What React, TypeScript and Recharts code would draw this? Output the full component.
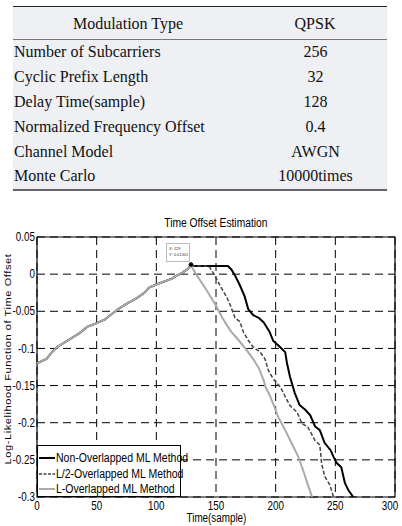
import {
  LineChart,
  Line,
  XAxis,
  YAxis,
  CartesianGrid,
  ReferenceArea,
  ReferenceDot,
} from 'recharts'

// simulation parameters shown above the plot
const paramNames = [
  'Number of Subcarriers',
  'Cyclic Prefix Length',
  'Delay Time(sample)',
  'Normalized Frequency Offset',
  'Channel Model',
  'Monte Carlo',
]
const paramValues = ['256', '32', '128', '0.4', 'AWGN', '10000times']

// shared rising edge up to the peak
const riseT = [0, 4, 8, 12, 17, 24, 31, 36, 42, 50, 57, 64, 70, 75, 84, 90, 94, 100, 108, 113, 117, 122, 127, 129]
const riseV = [-0.12, -0.117, -0.114, -0.106, -0.098, -0.091, -0.084, -0.079, -0.071, -0.066, -0.061, -0.052, -0.045, -0.04, -0.032, -0.025, -0.018, -0.014, -0.009, -0.006, -0.002, 0.002, 0.008, 0.013]

// falling edge for each method
const nonT = [131, 160, 163, 166, 170, 174, 177, 181, 186, 190, 195, 198, 203, 208, 209.5, 212, 216, 220, 225, 229, 233, 237, 241, 246, 248.5, 251, 255, 258, 261, 265]
const nonV = [0.011, 0.011, 0.006, -0.002, -0.015, -0.03, -0.047, -0.055, -0.059, -0.065, -0.078, -0.09, -0.097, -0.105, -0.12, -0.138, -0.16, -0.176, -0.183, -0.19, -0.205, -0.21, -0.227, -0.237, -0.246, -0.254, -0.26, -0.281, -0.291, -0.3]

const halfT = [131, 144, 148, 151, 155, 159, 162, 166, 170, 173, 177, 181, 187, 191, 194, 198, 204, 208, 212, 218, 222, 227, 233, 237, 238.5, 241, 245.5, 248.5]
const halfV = [0.011, 0.011, 0.001, -0.008, -0.02, -0.031, -0.042, -0.059, -0.064, -0.078, -0.089, -0.098, -0.105, -0.114, -0.13, -0.141, -0.152, -0.165, -0.177, -0.186, -0.201, -0.206, -0.224, -0.23, -0.255, -0.272, -0.284, -0.3]

const fullT = [130, 134, 139.5, 145, 150.5, 155, 162, 169, 176, 181, 186, 190, 191.5, 195, 199.5, 202, 208, 213.5, 219, 223, 227.5, 230.5]
const fullV = [0.009, -0.002, -0.015, -0.029, -0.044, -0.058, -0.076, -0.089, -0.103, -0.114, -0.127, -0.143, -0.152, -0.163, -0.181, -0.192, -0.21, -0.228, -0.246, -0.264, -0.286, -0.3]

const xTicks = [0, 50, 100, 150, 200, 250, 300]
const yTicks = [0.05, 0, -0.05, -0.1, -0.15, -0.2, -0.25, -0.3]

const peak = { t: 129, v: 0.01301 }

const build = (ts: number[], vs: number[]) => ts.map((t, i) => ({ t, v: vs[i] }))
const rise = build(riseT, riseV)
const nonData = [...rise, ...build(nonT, nonV)]
const halfData = [...rise, ...build(halfT, halfV)]
const fullData = [...rise, ...build(fullT, fullV)]

const series = [
  { name: 'Non-Overlapped ML Method', data: nonData, color: '#000', width: 2, dash: undefined },
  { name: 'L/2-Overlapped ML Method', data: halfData, color: '#444', width: 1.5, dash: '4 2' },
  { name: 'L-Overlapped ML Method', data: fullData, color: '#aaa', width: 2, dash: undefined },
]

const sans = '"Liberation Sans", Arial, sans-serif'
const serif = '"Liberation Serif", "Times New Roman", serif'
// the figure text is horizontally squeezed
const SQ = 0.82

const fmtY = (v: number) => (v === 0 ? '0' : String(Math.round(v * 100) / 100))

const XTick = ({ x, y, payload }: any) => (
  <text
    transform={`translate(${x},${y}) scale(${SQ},1)`}
    textAnchor="middle"
    dy="0.71em"
    fontFamily={sans}
    fontSize={12}
    fill="#000"
  >
    {payload.value}
  </text>
)

const YTick = ({ x, y, payload }: any) => (
  <text
    transform={`translate(${x},${y}) scale(${SQ},1)`}
    textAnchor="end"
    dy="0.35em"
    fontFamily={sans}
    fontSize={12}
    fill="#000"
  >
    {fmtY(payload.value)}
  </text>
)

const ParamTable = () => (
  <div
    style={{
      position: 'absolute',
      left: 13,
      top: 6,
      width: 374,
      background: '#eef0f4',
      borderTop: '1.5px solid #222',
      borderBottom: '2px solid #666',
      fontFamily: serif,
      fontSize: 16,
      color: '#111',
    }}
  >
    <div style={{ display: 'flex', height: 31, alignItems: 'center', borderBottom: '1px solid #777', paddingTop: 1 }}>
      <div style={{ width: 230, textAlign: 'center' }}>Modulation Type</div>
      <div style={{ flex: 1, textAlign: 'center' }}>QPSK</div>
    </div>
    {paramNames.map((name, i) => (
      <div key={name} style={{ display: 'flex', height: 24.8, alignItems: 'center' }}>
        <div style={{ width: 230, paddingLeft: 1 }}>{name}</div>
        <div style={{ flex: 1, textAlign: 'center' }}>{paramValues[i]}</div>
      </div>
    ))}
  </div>
)

const squeezed = (origin: string, k = SQ): React.CSSProperties => ({
  display: 'inline-block',
  transform: `scaleX(${k})`,
  transformOrigin: origin,
  whiteSpace: 'nowrap',
})

export default function App() {
  return (
    <div style={{ position: 'absolute', left: 0, top: 0, width: 402, height: 526, background: '#fff', overflow: 'hidden' }}>
      <ParamTable />

      <div style={{ position: 'absolute', left: 116, top: 216, width: 200, textAlign: 'center', fontFamily: sans, fontSize: 12.5 }}>
        <span style={squeezed('center')}>Time Offset Estimation</span>
      </div>

      <div
        style={{
          position: 'absolute',
          left: 8,
          top: 359,
          transform: `translate(-50%, -50%) rotate(-90deg) scaleY(${SQ})`,
          whiteSpace: 'nowrap',
          fontFamily: sans,
          fontSize: 11,
          letterSpacing: 0.6,
        }}
      >
        Log-Likelihood Function of Time Offset
      </div>

      <div style={{ position: 'absolute', left: 0, top: 210 }}>
        <LineChart width={402} height={316} margin={{ top: 27, right: 7, bottom: 14, left: 0 }}>
          <CartesianGrid stroke="#000" strokeDasharray="8 5" strokeWidth={1} />
          <XAxis
            dataKey="t"
            type="number"
            domain={[0, 300]}
            ticks={xTicks}
            height={15}
            axisLine={false}
            tickLine={false}
            tickSize={0}
            tickMargin={4}
            tick={<XTick />}
            allowDataOverflow
          />
          <YAxis
            type="number"
            domain={[-0.3, 0.05]}
            ticks={yTicks}
            width={37}
            axisLine={false}
            tickLine={false}
            tickSize={0}
            tickMargin={2}
            tick={<YTick />}
            allowDataOverflow
          />
          <ReferenceArea x1={0} x2={300} y1={-0.3} y2={0.05} fill="none" stroke="#000" strokeWidth={1.2} />
          {series.map((s) => (
            <Line
              key={s.name}
              data={s.data}
              dataKey="v"
              type="linear"
              stroke={s.color}
              strokeWidth={s.width}
              strokeDasharray={s.dash}
              dot={false}
              isAnimationActive={false}
            />
          ))}
          <ReferenceDot x={peak.t} y={peak.v} r={1.8} fill="#000" stroke="#000" />
        </LineChart>
      </div>

      {/* data tip at the peak */}
      <div
        style={{
          position: 'absolute',
          left: 166,
          top: 243,
          width: 24,
          height: 19,
          border: '1px solid #bbb',
          background: '#fff',
          fontFamily: sans,
          fontSize: 4,
          lineHeight: '6px',
          padding: '2px 0 0 2px',
          boxSizing: 'border-box',
          color: '#333',
          whiteSpace: 'nowrap',
        }}
      >
        <div>X: {peak.t}</div>
        <div>Y: {peak.v}</div>
      </div>

      {/* legend */}
      <div
        style={{
          position: 'absolute',
          left: 37,
          top: 445,
          width: 144,
          height: 52,
          border: '1.2px solid #000',
          background: '#fff',
          boxSizing: 'border-box',
          paddingTop: 4,
          fontFamily: sans,
          fontSize: 12.5,
        }}
      >
        {series.map((s) => (
          <div key={s.name} style={{ display: 'flex', alignItems: 'center', height: 15.7 }}>
            <svg width={16} height={6} style={{ marginLeft: 1, marginRight: 1, flexShrink: 0 }}>
              <line x1={0} y1={3} x2={16} y2={3} stroke={s.color} strokeWidth={s.width} strokeDasharray={s.dash ? '3 1.5' : undefined} />
            </svg>
            <span style={squeezed('left', 0.84)}>{s.name}</span>
          </div>
        ))}
      </div>

      <div style={{ position: 'absolute', left: 116, top: 512, width: 200, textAlign: 'center', fontFamily: sans, fontSize: 12, lineHeight: '13px' }}>
        <span style={squeezed('center')}>Time(sample)</span>
      </div>
    </div>
  )
}
